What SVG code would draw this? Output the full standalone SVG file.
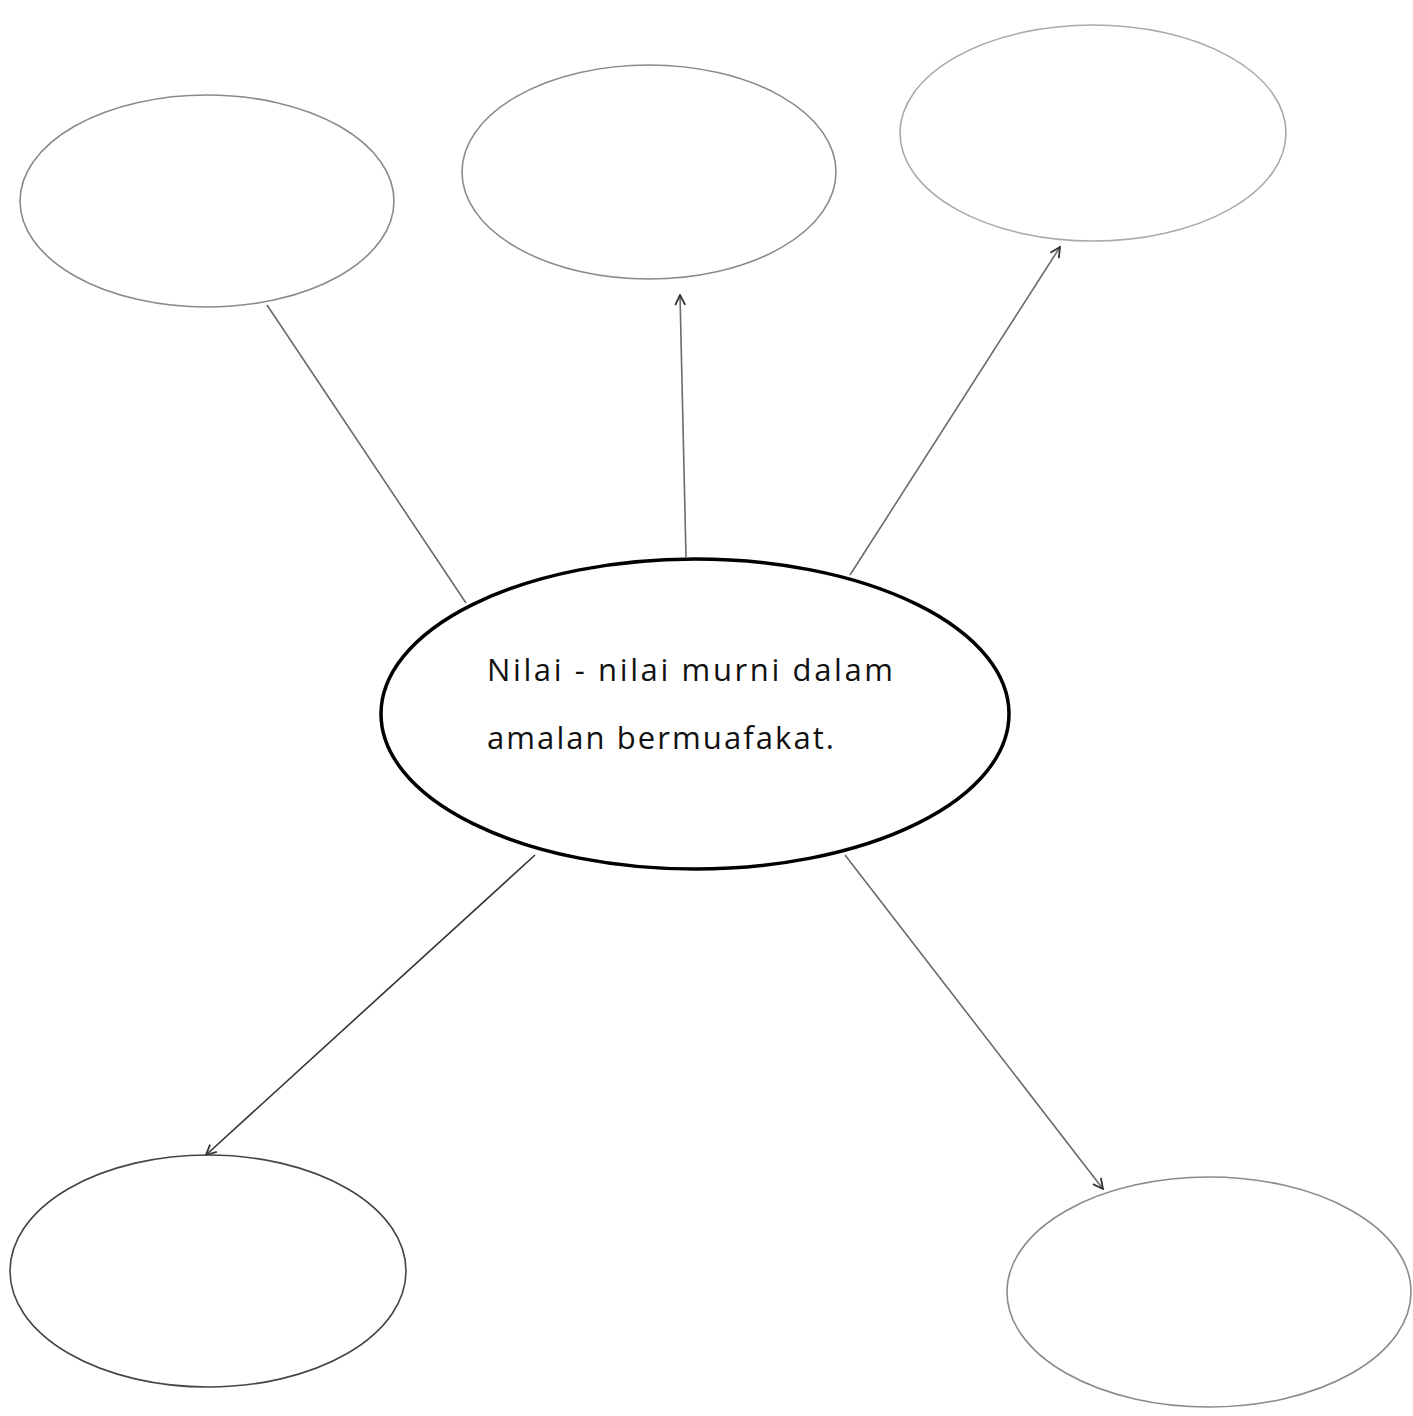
<svg xmlns="http://www.w3.org/2000/svg" width="1413" height="1416" viewBox="0 0 1413 1416">
<style>
.bub{fill:none;stroke:#8a8a8a;stroke-width:1.6}
.main{fill:#fff;stroke:#000;stroke-width:3.5}
.con{fill:none;stroke:#6a6a6a;stroke-width:1.6}
.lbl{font-family:"Comic Sans MS","Open Sans","DejaVu Sans",sans-serif;font-size:31px;fill:#111}
</style>
<defs>
<marker id="arr" viewBox="0 0 12 12" refX="11" refY="6" markerWidth="12" markerHeight="12" markerUnits="userSpaceOnUse" orient="auto">
<polyline points="1,1 11,6 1,11" fill="none" stroke="#333" stroke-width="1.8"/>
</marker>
</defs>
<rect width="1413" height="1416" fill="#fff"/>
<g id="connectors">
<line class="con" x1="267" y1="305" x2="466" y2="603"/>
<line class="con" x1="686" y1="557" x2="680" y2="295" marker-end="url(#arr)"/>
<line class="con" x1="850" y1="575" x2="1060" y2="247" marker-end="url(#arr)"/>
<line class="con" x1="535" y1="855" x2="206" y2="1155" marker-end="url(#arr)" style="stroke:#333"/>
<line class="con" x1="845" y1="855" x2="1103" y2="1189" marker-end="url(#arr)"/>
</g>
<g id="node-top-left"><ellipse class="bub" cx="207" cy="201" rx="187" ry="106"/></g>
<g id="node-top-middle"><ellipse class="bub" cx="649" cy="172" rx="187" ry="107"/></g>
<g id="node-top-right"><ellipse class="bub" cx="1093" cy="133" rx="193" ry="108" style="stroke:#aaa"/></g>
<g id="node-bottom-left"><ellipse class="bub" cx="208" cy="1271" rx="198" ry="116" style="stroke:#444"/></g>
<g id="node-bottom-right"><ellipse class="bub" cx="1209" cy="1292" rx="202" ry="115"/></g>
<g id="node-center">
<ellipse class="main" cx="695" cy="714" rx="314" ry="155"/>
<text class="lbl" x="487" y="681" textLength="406" lengthAdjust="spacing">Nilai - nilai murni dalam</text>
<text class="lbl" x="487" y="749" textLength="347" lengthAdjust="spacing">amalan bermuafakat.</text>
</g>
</svg>
